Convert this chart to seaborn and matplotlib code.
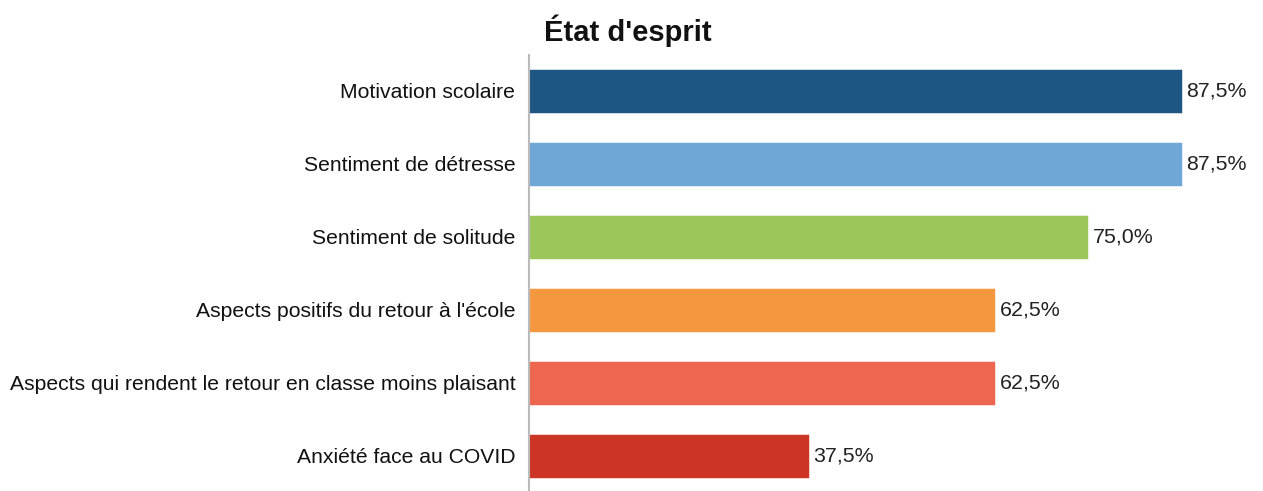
import seaborn as sns
import pandas as pd
import matplotlib.pyplot as plt

# data
categories = ["Motivation scolaire", "Sentiment de détresse", "Sentiment de solitude",
              "Aspects positifs du retour à l'école",
              "Aspects qui rendent le retour en classe moins plaisant",
              "Anxiété face au COVID"]
values = [87.5, 87.5, 75.0, 62.5, 62.5, 37.5]
colors = ["#1f5582", "#6fa8d6", "#9bc75a", "#f49840", "#ef6650", "#cc3425"]

df = pd.DataFrame({"cat": categories, "val": values})

sns.set_style("white")
plt.rcParams['font.family'] = ['Liberation Sans', 'DejaVu Sans']

fig = plt.figure(figsize=(12.63, 4.91), dpi=100)
ax = fig.add_axes([0.419, 0.0, 0.581, 0.888])

sns.barplot(data=df, x="val", y="cat", hue="cat", palette=colors, orient="h",
            width=0.6, legend=False, ax=ax, saturation=1,
            edgecolor="#ffffff", linewidth=0.4)

for cont, v in zip(ax.containers, values):
    ax.bar_label(cont, labels=[f"{v:.1f}%".replace(".", ",")], padding=3,
                 fontsize=15.4, color="#222222")

ax.set_xlim(0, 98.4)
ax.set_ylim(5.48, -0.49)
ax.set_xlabel("")
ax.set_ylabel("")
ax.set_xticks([])
ax.tick_params(axis="y", length=0, labelsize=15.2, pad=10, labelcolor="#111111")
for s in ["top", "right", "bottom"]:
    ax.spines[s].set_visible(False)
ax.spines["left"].set_color("#bbbbbb")
ax.spines["left"].set_linewidth(1.5)

fig.text(0.431, 0.937, "État d'esprit", fontsize=21, fontweight="bold",
         va="center", ha="left", color="#111111")

plt.savefig("out.png", dpi=100)
